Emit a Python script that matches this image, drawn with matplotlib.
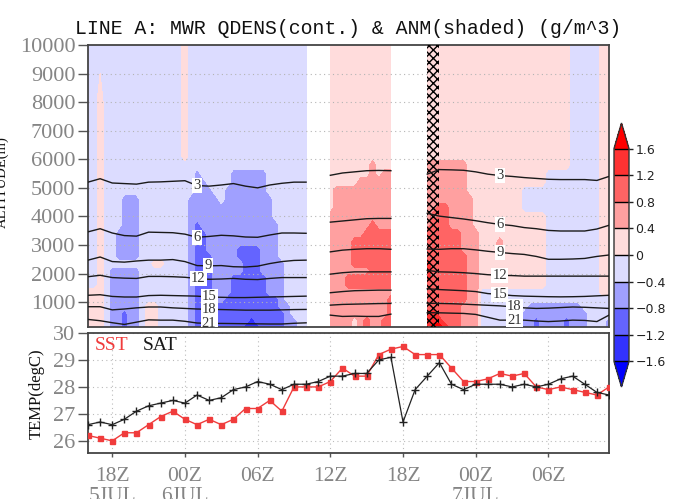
import numpy as np
import matplotlib
matplotlib.use("Agg")
import matplotlib.pyplot as plt
from matplotlib.colors import ListedColormap, BoundaryNorm

SERIF = "Liberation Serif"

# ---- time axis: hours since 00Z 5 JUL ----
hours = list(range(16, 60))
sst = [26.2, 26.1, 26.0, 26.3, 26.3, 26.6, 26.9, 27.1, 26.8, 26.6, 26.8, 26.6, 26.8, 27.2, 27.2,
       27.5, 27.1, 28.0, 28.0, 28.0, 28.2, 28.7, 28.4, 28.4, 29.2, 29.4, 29.5, 29.2, 29.2, 29.2,
       28.7, 28.2, 28.2, 28.3, 28.5, 28.4, 28.5, 28.0, 27.9, 28.0, 27.9, 27.8, 27.7, 28.0]
sat = [26.6, 26.7, 26.6, 26.8, 27.1, 27.3, 27.4, 27.5, 27.4, 27.7, 27.5, 27.6, 27.9, 28.0, 28.2,
       28.1, 27.9, 28.1, 28.1, 28.2, 28.4, 28.4, 28.5, 28.5, 29.0, 29.1, 26.7, 27.9, 28.4, 28.9,
       28.1, 27.9, 28.1, 28.1, 28.1, 28.0, 28.1, 28.0, 28.1, 28.3, 28.4, 28.1, 27.8, 27.7]

xtick_hours = [18, 24, 30, 36, 42, 48, 54]
xtick_labels = ["18Z\n5JUL", "00Z\n6JUL", "06Z", "12Z", "18Z", "00Z\n7JUL", "06Z"]
alt_ticks = [1000, 2000, 3000, 4000, 5000, 6000, 7000, 8000, 9000, 10000]
temp_ticks = [26, 27, 28, 29, 30]

# ---- anomaly shading (g/m^3) ----
anm_levels = [-1.6, -1.2, -0.8, -0.4, 0, 0.4, 0.8, 1.2, 1.6]
anm_colors = ["#0000ff", "#3232ff", "#6464ff", "#a0a0ff", "#dcdcff",
              "#ffdcdc", "#ffa0a0", "#ff6464", "#ff3232", "#ff0000"]
cb_labels = ["\u22121.6", "\u22121.2", "\u22120.8", "\u22120.4", "0", "0.4", "0.8", "1.2", "1.6"]
anm_code = {"e": -1.8, "d": -1.4, "c": -1.0, "b": -0.6, "a": -0.2,
            "1": 0.2, "2": 0.6, "3": 1.0, "4": 1.4, "5": 1.8}

# rows from top to bottom, columns every half hour
anm_z = [10000, 8000, 6100, 5800, 5500, 5200, 4900, 4600, 4300, 4000, 3700, 3400, 3100,
         2850, 2600, 2350, 2100, 1850, 1600, 1350, 1100, 850, 600, 350, 130]

anm_start1 = 16  # 16Z 5JUL .. 10Z 6JUL
anm_seg1 = [
    "aaaaaaaaaaaaaaaa1aaaaaaaaaaaaaaaaaaaa",
    "aa1aaaaaaaaaaaaa1aaaaaaaaaaaaaaaaaaaa",
    "aa1aaaaaaaaaaaaa1aaaaaaaaaaaaaaaaaaaa",
    "aa1aaaaaaaaaaaaaaaaaaaaaaaaaaaaaaaaaa",
    "aa1aaaaaaaaaaaaaaabaaaaabbbbbbaaaaaaa",
    "aa1aaaaaaaaaaaaaaabbaaaabbbbbbaaaaaaa",
    "aa1aaaaaaaaaaaaaaabbbaabbbbbbbaaaaaaa",
    "aa1aaabbbaaaaaaaabbbbbabbbbbbbbaaaaaa",
    "aa1aaabbbaaaaaaaabbbbbbbbbbbbbbaaaaaa",
    "aa1aaabbbaaaaaaaabbbbbbbbbbbbbbaaaaaa",
    "aa1aaabbbaaaaaaaabcbbbbbbbbbbbbbaaaaa",
    "aa1aabbbbaaaaaaaabccbbbbbbbbbbbbaaaaa",
    "aa1aabbbbaaaaaaaabccbbbbbbbbbbbbaaaaa",
    "aa1aabbbbaaaaaaaabccbbbbbccccbbbaaaaa",
    "aa1aabbbbaaaaaaaabcccbbbbccccbbbaaaaa",
    "aa1aaaaaaaa11aaaabcccbbbbbcccbbbbaaaa",
    "aa1abbbbbaaaaaaaabcccbbbbbcccbbbbaaaa",
    "aa1abbbbbaaaaaaaabcccbbbccccccbbbaaaa",
    "aa1abbbbbaaaaaaaabcccbbbccccccbbbaaaa",
    "111abbbbbaaaaaaaabcccbbbccccccbbbaaaa",
    "111abbbbbaaaaaaaabcccbbcccccccccbaaaa",
    "111abbbbba11aaaaabccccccccccccccbbaaa",
    "111abbcbba11aaaaabcccccccccccccccbaaa",
    "111abbcbba11aaaaabcccccccccdcccccbbaa",
    "111abbcbba11aaaaabccccccccdddccccbbaa",
]

anm_start2 = 36  # 12Z .. 17Z 6JUL
anm_seg2 = [
    "11111111111", "11111111111", "11111111111", "11111112111", "11111112122",
    "11111222222", "12222222222", "12222222222", "12222222222", "22222222222",
    "22222223222", "22222233333", "22223333333", "22223333333", "22223333333",
    "22223333333", "22222223333", "22233333333", "22233333333", "22222222222",
    "22222222223", "22222222223", "22222222223", "22221232233", "22221232233",
]

anm_start3 = 44  # 20Z 6JUL .. 11Z 7JUL
anm_seg3 = [
    "111111111111111111111111aaaaa11",
    "111111111111111111111111aaaaa11",
    "111111111111111111111111aaaaa11",
    "222222211111111111111111aaaaa11",
    "22222221111111111111aaaaaaaaa11",
    "22222221111111111111aaaaaaaaa11",
    "2222222111111111aaaaaaaaaaaaa11",
    "2222222211111111aaaaaaaaaaaaa11",
    "2233222211111111aaaaaaaaaaaaa11",
    "23332222111111111111aaaaaaaaa11",
    "23332222111111111111aaaaaaaaa11",
    "33333322211111111111aaaaaaaaa11",
    "33333322211121111111aaaaaaaaa11",
    "33333322211121111111aaaaaaaaa11",
    "33333332211121111111aaaaaaaaa11",
    "43333332211111111111aaaaaaaaa11",
    "43333332211111111111aaaaaaaaa11",
    "43333332211111111111aaaaaaaaa11",
    "33333332211111111111aaaaaaaaa11",
    "333333322aaaaaaaaaaaaaaaaaaaa11",
    "333333322aaaaaaaaaaaaaaaaaaaaaa",
    "333333222aaaaaaaabbbbbbbbbaaaaa",
    "443333222aaaaaaabbbbbbbbbbbaaaa",
    "444333222aaaaaaabbcbbbbcbbbaaab",
    "455433222aaaaaaabbcbbbbcbbbaaab",
]

rain_spans = [(44, 45)]

# ---- QDENS contours: height (m) of each level, hourly ----
qd_hours1 = list(range(16, 35))
qd_seg1 = {
    3: [5200, 5320, 5170, 5150, 5130, 5200, 5210, 5230, 5250, 5080, 5060, 5100, 5150, 5060, 5000, 5100, 5160, 5200, 5200],
    6: [3460, 3570, 3420, 3330, 3310, 3450, 3440, 3430, 3380, 3270, 3300, 3340, 3320, 3280, 3270, 3350, 3420, 3420, 3410],
    9: [2470, 2580, 2420, 2400, 2440, 2470, 2470, 2490, 2420, 2280, 2270, 2280, 2240, 2230, 2260, 2350, 2420, 2460, 2470],
    12: [1890, 1940, 1860, 1840, 1830, 1900, 1900, 1890, 1870, 1830, 1800, 1810, 1830, 1800, 1790, 1830, 1860, 1860, 1860],
    15: [1240, 1260, 1200, 1180, 1180, 1230, 1240, 1230, 1220, 1210, 1180, 1170, 1160, 1160, 1170, 1180, 1190, 1200, 1210],
    18: [840, 840, 730, 760, 800, 830, 830, 800, 780, 760, 750, 740, 730, 720, 720, 720, 730, 740, 745],
    21: [395, 350, 280, 220, 300, 380, 370, 370, 330, 270, 255, 255, 250, 245, 240, 235, 235, 260, 276],
}
qd_hours2 = list(range(36, 42))
qd_seg2 = {
    3: [5440, 5520, 5560, 5600, 5610, 5600],
    6: [3800, 3840, 3880, 3920, 3930, 3930],
    9: [2760, 2820, 2850, 2870, 2870, 2850],
    12: [1980, 2030, 2060, 2060, 2060, 2060],
    15: [1330, 1370, 1400, 1410, 1420, 1420],
    18: [895, 920, 930, 940, 950, 955],
    21: [545, 500, 510, 500, 500, 580],
}
qd_hours3 = list(range(44, 60))
qd_seg3 = {
    3: [5480, 5640, 5630, 5615, 5560, 5480, 5430, 5400, 5360, 5330, 5300, 5290, 5290, 5290, 5260, 5400],
    6: [4110, 4010, 3960, 3910, 3850, 3780, 3720, 3680, 3610, 3570, 3510, 3490, 3490, 3490, 3560, 3690],
    9: [2860, 2850, 2870, 2870, 2830, 2780, 2740, 2700, 2670, 2600, 2500, 2500, 2510, 2530, 2600, 2650],
    12: [2110, 2060, 2050, 2030, 2000, 1960, 1940, 1930, 1910, 1910, 1910, 1910, 1910, 1910, 1910, 1910],
    15: [1470, 1440, 1420, 1400, 1370, 1300, 1270, 1230, 1210, 1200, 1190, 1185, 1190, 1200, 1220, 1240],
    18: [960, 955, 945, 930, 910, 890, 870, 840, 800, 780, 790, 810, 830, 820, 800, 780],
    21: [630, 626, 615, 605, 570, 470, 370, 370, 370, 340, 320, 340, 370, 360, 320, 545],
}
qd_label_at1 = {3: 25.0, 6: 25.0, 9: 25.9, 12: 25.1, 15: 26.0, 18: 26.0, 21: 26.0}
qd_label_at3 = {3: 50.0, 6: 50.0, 9: 50.0, 12: 50.0, 15: 50.0, 18: 51.2, 21: 51.2}

# ---- figure ----
W, H = 677, 499
fig = plt.figure(figsize=(W / 100, H / 100), dpi=100, facecolor="white")
ax = fig.add_axes([88 / W, 1 - 327 / H, 521 / W, 282 / H])
ax2 = fig.add_axes([88 / W, 1 - 453 / H, 521 / W, 120 / H])
cax = fig.add_axes([614 / W, 1 - 387 / H, 15 / W, 264 / H])

cmap = ListedColormap(anm_colors[1:-1])
cmap.set_under(anm_colors[0])
cmap.set_over(anm_colors[-1])
norm = BoundaryNorm(anm_levels, cmap.N)

zz = np.array(anm_z)[::-1]
cf = None
for t0, rows in [(anm_start1, anm_seg1), (anm_start2, anm_seg2), (anm_start3, anm_seg3)]:
    assert len(rows) == len(anm_z)
    assert len(set(len(r) for r in rows)) == 1, [len(r) for r in rows]
    vals = np.array([[anm_code[ch] for ch in r] for r in rows])[::-1]
    tt = t0 + 0.5 * np.arange(vals.shape[1])
    c = ax.contourf(tt, zz, vals, levels=anm_levels, cmap=cmap, norm=norm,
                    extend="both", zorder=1)
    cf = cf or c

for a, b in rain_spans:
    ax.axvspan(a, b, facecolor="none", edgecolor="black", hatch="xxxx",
               linewidth=0, zorder=3)

for hrs, seg in [(qd_hours1, qd_seg1), (qd_hours2, qd_seg2), (qd_hours3, qd_seg3)]:
    for lev, h in seg.items():
        ax.plot(hrs, h, color="#1a1a1a", lw=1.0, zorder=4)

for hrs, seg, where in [(qd_hours1, qd_seg1, qd_label_at1), (qd_hours3, qd_seg3, qd_label_at3)]:
    for lev, tl in where.items():
        ax.text(tl, np.interp(tl, hrs, seg[lev]), str(lev), ha="center", va="center",
                fontsize=10.5, family=SERIF, color="#333333", zorder=5, clip_on=True,
                bbox=dict(boxstyle="square,pad=0.08", fc="white", ec="none"))

ax.set_xlim(16, 59)
ax.set_ylim(130, 10000)
ax.set_yticks(alt_ticks)
for yv in alt_ticks[:-1]:
    ax.axhline(yv, color="#b4b4b4", lw=0.8, ls=(0, (1, 3)), zorder=2)
ax.tick_params(axis="x", bottom=False, labelbottom=False)
ax.tick_params(axis="y", direction="out", length=7, width=1, color="#555555",
               labelsize=16, labelcolor="#858585", pad=2)

# ---- bottom panel ----
ax2.plot(hours, sst, color="#f03c3c", lw=1.0, marker="s", ms=3.6, mfc="#f03c3c",
         mec="#f03c3c", zorder=3)
ax2.plot(hours, sat, color="#222222", lw=0.9, marker="+", ms=6, mew=1.0, zorder=4)
ax2.set_xlim(16, 59)
ax2.set_ylim(25.55, 30)
ax2.set_yticks(temp_ticks)
ax2.set_xticks(xtick_hours)
ax2.set_xticklabels(xtick_labels)
ax2.grid(True, color="#bbbbbb", lw=0.8, ls=(0, (1, 3)))
ax2.tick_params(axis="y", direction="out", length=7, width=1, color="#555555",
                labelsize=16, labelcolor="#858585", pad=2)
ax2.tick_params(axis="x", direction="out", length=3, width=1, color="#555555",
                labelsize=15.5, labelcolor="#858585", pad=7)
for lbl in ax2.get_xticklabels() + ax2.get_yticklabels() + ax.get_yticklabels():
    lbl.set_family(SERIF)
for lbl in ax2.get_xticklabels():
    lbl.set_linespacing(1.05)
ax2.text(0.013, 0.9, "SST", transform=ax2.transAxes, color="#f03c3c", fontsize=14,
         family=SERIF, ha="left", va="center")
ax2.text(0.105, 0.9, "SAT", transform=ax2.transAxes, color="#1a1a1a", fontsize=14,
         family=SERIF, ha="left", va="center")

for a_ in (ax, ax2):
    for sp in a_.spines.values():
        sp.set_linewidth(1.3)
        sp.set_color("#444444")

# ---- colorbar ----
cb = fig.colorbar(cf, cax=cax, extend="both", extendfrac=0.12, drawedges=True,
                  ticks=anm_levels)
cb.ax.set_yticklabels(cb_labels)
cb.outline.set_linewidth(1.0)
cb.outline.set_edgecolor("#333333")
cb.dividers.set_color("black")
cb.dividers.set_linewidth(1.0)
cb.ax.tick_params(length=3, width=1, labelsize=9, pad=1.5, colors="#222222")

# ---- texts ----
fig.text(348 / W, 1 - 28 / H, "LINE A: MWR QDENS(cont.) & ANM(shaded) (g/m^3)",
         ha="center", va="center", fontsize=14.3, family="Liberation Mono", color="#111111")
fig.text(9 / W, 1 - 182 / H, "ALTITUDE(m)", rotation=90, ha="right", va="center",
         fontsize=10.5, family=SERIF, color="#111111")
fig.text(37 / W, 1 - 394 / H, "TEMP(degC)", rotation=90, ha="center", va="center",
         fontsize=12, family=SERIF, color="#111111")

fig.savefig("out.png", dpi=100)
